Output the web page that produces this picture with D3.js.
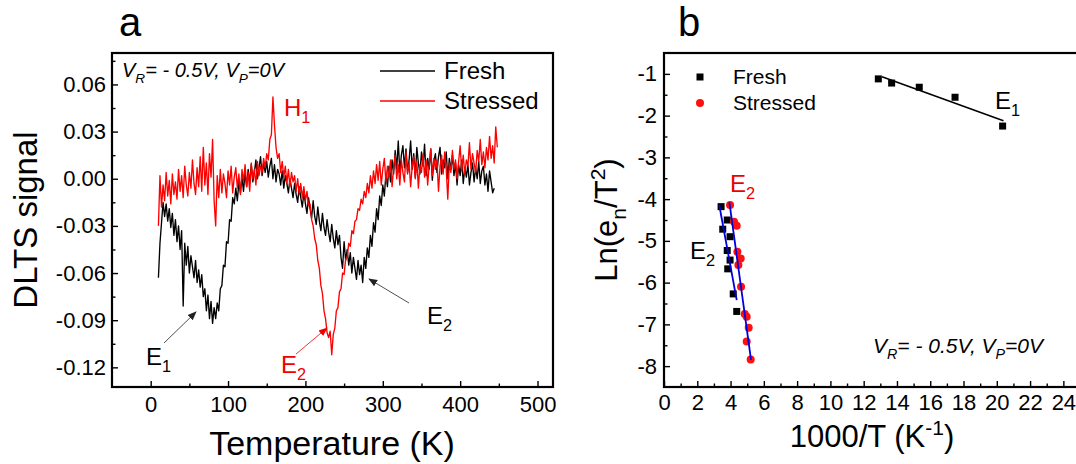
<!DOCTYPE html>
<html lang="en">
<head>
	<meta charset="utf-8">
	<title>DLTS spectra and Arrhenius plot</title>
	<script src="https://d3js.org/d3.v7.min.js"></script>
	<style>
		body { margin: 0; background: #fff; }
		svg { font-family: "Liberation Sans", Arial, sans-serif; }
		.tick line { stroke: #000; stroke-width: 1.4; }
	</style>
</head>
<body>
	<script>
		// ---- panel a : DLTS spectra ----
		var tempK = [
			10,12,14,16,18,20,22,24,26,28, 30,32,34,36,38,40,42,44,46,48,
			50,52,54,56,58,60,62,64,66,68, 70,72,74,76,78,80,82,84,86,88,
			90,92,94,96,98,100,102,104,106,108, 110,112,114,116,118,120,122,124,126,128,
			130,132,134,136,138,140,142,144,146,148, 150,152,154,156,158,160,162,164,166,168,
			170,172,174,176,178,180,182,184,186,188, 190,192,194,196,198,200,202,204,206,208,
			210,212,214,216,218,220,222,224,226,228, 230,232,234,236,238,240,242,244,246,248,
			250,252,254,256,258,260,262,264,266,268, 270,272,274,276,278,280,282,284,286,288,
			290,292,294,296,298,300,302,304,306,308, 310,312,314,316,318,320,322,324,326,328,
			330,332,334,336,338,340,342,344,346,348, 350,352,354,356,358,360,362,364,366,368,
			370,372,374,376,378,380,382,384,386,388, 390,392,394,396,398,400,402,404,406,408,
			410,412,414,416,418,420,422,424,426,428, 430,432,434,436,438,440,442,444,446,448
		];
		var freshSignal = [
			-0.063,-0.041,-0.028,-0.015,-0.024,-0.016,-0.027,-0.019,-0.031,-0.022,
			-0.036,-0.026,-0.04,-0.03,-0.045,-0.033,-0.081,-0.041,-0.055,-0.043,
			-0.06,-0.049,-0.056,-0.063,-0.052,-0.066,-0.058,-0.069,-0.061,-0.075,
			-0.07,-0.084,-0.074,-0.089,-0.078,-0.092,-0.082,-0.089,-0.079,-0.084,
			-0.07,-0.068,-0.055,-0.056,-0.04,-0.041,-0.026,-0.027,-0.012,-0.016,
			-0.006,-0.014,-0.002,-0.009,0.001,-0.008,0.004,-0.005,0.006,-0.003,
			0.009,-0.002,0.004,0.012,0.0,0.007,0.014,0.002,0.01,0.004,
			0.011,0.001,0.008,0.013,0.0,0.009,-0.002,0.006,0.003,-0.004,
			0.005,-0.006,0.002,-0.003,-0.009,0.0,-0.006,-0.012,-0.003,-0.01,
			-0.015,-0.005,-0.012,-0.018,-0.009,-0.016,-0.022,-0.012,-0.019,-0.025,
			-0.014,-0.024,-0.029,-0.018,-0.027,-0.033,-0.022,-0.031,-0.036,-0.026,
			-0.034,-0.04,-0.029,-0.038,-0.044,-0.033,-0.042,-0.036,-0.05,-0.057,
			-0.04,-0.052,-0.045,-0.055,-0.047,-0.06,-0.05,-0.057,-0.064,-0.052,
			-0.061,-0.055,-0.066,-0.05,-0.057,-0.044,-0.05,-0.036,-0.043,-0.028,
			-0.034,-0.019,-0.026,-0.011,-0.017,-0.004,-0.011,0.003,-0.005,0.008,
			-0.002,0.012,0.003,0.018,0.006,0.024,0.004,0.015,0.021,0.007,
			0.019,0.004,0.012,0.024,0.006,0.016,0.001,0.02,0.01,0.003,
			0.017,0.008,0.022,0.002,0.013,0.006,0.019,-0.001,0.011,0.016,
			0.004,0.014,0.02,0.003,0.012,0.007,0.017,0.0,0.013,0.006,
			0.015,0.002,0.01,-0.004,0.009,0.002,0.012,-0.003,0.007,0.001,
			0.009,-0.004,0.004,0.01,-0.002,0.007,0.0,0.011,-0.003,0.005,
			0.008,-0.004,0.003,-0.008,0.005,-0.002,-0.009,-0.006
		];
		var stressedSignal = [
			-0.03,0.002,-0.018,-0.004,-0.014,0.004,-0.011,-0.001,-0.016,0.003,
			-0.01,-0.002,-0.013,0.006,-0.008,0.002,-0.012,0.008,-0.004,-0.011,
			0.004,-0.006,0.012,-0.003,-0.01,0.007,-0.005,0.014,-0.008,0.02,
			-0.004,0.01,-0.01,0.016,0.001,0.025,-0.014,-0.03,0.002,-0.012,
			0.006,-0.009,0.003,-0.003,-0.012,0.005,-0.004,0.008,-0.009,0.001,
			0.007,-0.006,0.003,-0.01,0.006,-0.002,0.009,-0.005,0.004,-0.008,
			0.01,0.0,0.006,-0.004,0.011,0.002,0.008,0.004,0.013,0.007,
			0.016,0.012,0.025,0.028,0.052,0.034,0.02,0.013,0.016,0.004,
			0.011,0.001,0.008,-0.003,0.006,-0.005,0.004,-0.002,0.002,-0.008,
			0.0,-0.01,-0.003,-0.012,-0.005,-0.014,-0.008,-0.017,-0.016,-0.026,
			-0.03,-0.038,-0.042,-0.052,-0.057,-0.068,-0.073,-0.084,-0.089,-0.098,
			-0.101,-0.097,-0.112,-0.099,-0.095,-0.084,-0.082,-0.072,-0.07,-0.06,
			-0.061,-0.051,-0.05,-0.041,-0.043,-0.033,-0.035,-0.027,-0.026,-0.019,
			-0.02,-0.013,-0.016,-0.008,-0.012,-0.003,-0.009,0.002,-0.006,0.005,
			-0.003,0.009,-0.001,0.011,-0.004,0.006,0.013,-0.002,0.008,0.001,
			0.012,-0.005,0.007,0.015,0.0,0.009,-0.004,0.012,0.004,-0.002,
			0.017,0.003,0.01,-0.005,0.008,0.014,0.0,0.011,-0.006,0.009,
			0.004,0.016,0.001,0.012,-0.004,0.009,0.019,0.002,0.013,0.006,
			0.012,-0.008,0.008,0.015,0.003,0.017,0.006,-0.013,0.01,0.004,
			0.018,0.006,0.012,0.0,0.011,0.021,0.005,0.015,0.003,0.012,
			0.008,0.023,0.006,0.016,0.01,0.004,0.018,0.011,0.025,0.009,
			0.017,0.007,0.02,0.012,0.027,0.013,0.021,0.01,0.033,0.02
		];
		var tempTicks = [0, 100, 200, 300, 400, 500];
		var tempMinor = [50, 150, 250, 350, 450];
		var signalTicks = [-0.12, -0.09, -0.06, -0.03, 0.00, 0.03, 0.06];
		var signalMinor = [-0.105, -0.075, -0.045, -0.015, 0.015, 0.045, 0.075];

		// ---- panel b : Arrhenius plot ----
		var e1FreshX = [12.88, 13.68, 15.34, 17.49, 20.35];
		var e1FreshY = [-1.12, -1.22, -1.32, -1.56, -2.25];
		var e2FreshX = [3.43, 3.80, 3.53, 3.97, 3.80, 3.97, 3.83, 4.16, 4.37];
		var e2FreshY = [-4.18, -4.50, -4.72, -4.90, -5.23, -5.46, -5.67, -6.27, -6.69];
		var e2StressX = [3.97, 4.21, 4.37, 4.41, 4.61, 4.47, 4.63, 4.85, 4.97, 5.09, 4.97, 5.21];
		var e2StressY = [-4.14, -4.54, -4.64, -5.26, -5.42, -5.58, -6.10, -6.75, -6.82, -7.08, -7.41, -7.84];
		// fitted lines, end points
		var fitE1X = [13.1, 20.4], fitE1Y = [-1.07, -2.12];
		var fitE2FreshX = [3.32, 4.37], fitE2FreshY = [-4.14, -6.42];
		var fitE2StressX = [3.93, 5.23], fitE2StressY = [-4.08, -7.85];
		var invTTicks = [0, 2, 4, 6, 8, 10, 12, 14, 16, 18, 20, 22, 24];
		var invTMinor = [1, 3, 5, 7, 9, 11, 13, 15, 17, 19, 21, 23];
		var lnTicks = [-8, -7, -6, -5, -4, -3, -2, -1];
		var lnMinor = [-7.5, -6.5, -5.5, -4.5, -3.5, -2.5, -1.5];

		const width = 1076;
		const height = 464;
		var svg = d3.select("body").append("svg")
					.attr("width", width)
					.attr("height", height);
		svg.append("rect").attr("width", width).attr("height", height).attr("fill", "#fff");

		var defs = svg.append("defs");
		function addArrow(id, color) {
			defs.append("marker")
				.attr("id", id)
				.attr("viewBox", "0 0 10 10")
				.attr("refX", 9).attr("refY", 5)
				.attr("markerWidth", 9).attr("markerHeight", 9)
				.attr("markerUnits", "userSpaceOnUse")
				.attr("orient", "auto")
				.append("path").attr("d", "M0,1 L10,5 L0,9 Z").attr("fill", color);
		}
		addArrow("arrBlack", "#222");
		addArrow("arrRed", "#e00");

		// text with sub/superscripts: parts = [[str, "n"|"sub"|"sup"], ...]
		function richText(g, x, y, parts, size, opts) {
			opts = opts || {};
			let t = g.append("text").attr("x", x).attr("y", y)
					.attr("font-size", size)
					.attr("fill", opts.fill || "#000");
			if (opts.italic) t.attr("font-style", "italic");
			if (opts.anchor) t.attr("text-anchor", opts.anchor);
			if (opts.transform) t.attr("transform", opts.transform);
			let shift = 0;
			parts.forEach(function(p) {
				let target = p[1] == "sub" ? size * 0.3 : (p[1] == "sup" ? -size * 0.38 : 0);
				let s = t.append("tspan").text(p[0]).attr("dy", target - shift);
				if (p[1] != "n") s.attr("font-size", size * 0.68);
				shift = target;
			});
			return t;
		}

		var fmtMinus = function(f) { return function(d) { return f(d).replace("\u2212", "-"); }; };

		function drawAxes(x, y, xt, xm, yt, ym, xfmt, yfmt, fontSize, xpad, ypad) {
			let r = x.range(), b = y.range()[0];
			svg.append("g").attr("transform", "translate(0," + b + ")")
				.call(d3.axisBottom(x).tickValues(xt).tickFormat(xfmt)
					.tickSizeInner(-6).tickSizeOuter(0).tickPadding(xpad))
				.call(g => g.select(".domain").remove())
				.selectAll("text").attr("font-size", fontSize).attr("font-family", null).attr("fill", "#000");
			svg.append("g").attr("transform", "translate(0," + b + ")")
				.call(d3.axisBottom(x).tickValues(xm).tickFormat("").tickSizeInner(-3.5).tickSizeOuter(0))
				.call(g => g.select(".domain").remove());
			svg.append("g").attr("transform", "translate(" + r[0] + ",0)")
				.call(d3.axisLeft(y).tickValues(yt).tickFormat(yfmt)
					.tickSizeInner(-6).tickSizeOuter(0).tickPadding(ypad))
				.call(g => g.select(".domain").remove())
				.selectAll("text").attr("font-size", fontSize).attr("font-family", null).attr("fill", "#000");
			svg.append("g").attr("transform", "translate(" + r[0] + ",0)")
				.call(d3.axisLeft(y).tickValues(ym).tickFormat("").tickSizeInner(-3.5).tickSizeOuter(0))
				.call(g => g.select(".domain").remove());
			let yr = y.range();
			svg.append("rect")
				.attr("x", r[0]).attr("y", yr[1])
				.attr("width", r[1] - r[0]).attr("height", yr[0] - yr[1])
				.attr("fill", "none").attr("stroke", "#000").attr("stroke-width", 2.2);
		}

		// ===== panel a =====
		var xA = d3.scaleLinear().domain([-50, 520]).range([112, 553]);
		var yA = d3.scaleLinear().domain([-0.1325, 0.08]).range([387, 53]);

		var clipA = defs.append("clipPath").attr("id", "clipA");
		clipA.append("rect").attr("x", 112).attr("y", 53).attr("width", 441).attr("height", 334);

		var lineA = d3.line().x(d => xA(d[0])).y(d => yA(d[1]));
		var curves = svg.append("g").attr("clip-path", "url(#clipA)");
		curves.append("path").datum(d3.zip(tempK, freshSignal))
			.attr("d", lineA).attr("fill", "none").attr("stroke", "#000").attr("stroke-width", 1.35)
			.attr("stroke-linejoin", "round");
		curves.append("path").datum(d3.zip(tempK, stressedSignal))
			.attr("d", lineA).attr("fill", "none").attr("stroke", "#ff0000").attr("stroke-width", 1.35)
			.attr("stroke-linejoin", "round");

		drawAxes(xA, yA, tempTicks, tempMinor, signalTicks, signalMinor,
			d3.format("d"), fmtMinus(d3.format(".2f")), 22, 9, 6);

		svg.append("text").attr("x", 119).attr("y", 36).attr("font-size", 40).text("a");
		svg.append("text").attr("x", 332).attr("y", 455).attr("font-size", 34)
			.attr("text-anchor", "middle").text("Temperature (K)");
		svg.append("text").attr("transform", "translate(37,220) rotate(-90)")
			.attr("font-size", 33).attr("text-anchor", "middle").text("DLTS signal");

		richText(svg, 122, 77, [["V","n"],["R","sub"],["= - 0.5V, V","n"],["P","sub"],["=0V","n"]], 20, {italic: true});

		// legend a
		svg.append("line").attr("x1", 380).attr("x2", 435).attr("y1", 71).attr("y2", 71)
			.attr("stroke", "#000").attr("stroke-width", 1.5);
		svg.append("line").attr("x1", 380).attr("x2", 435).attr("y1", 101).attr("y2", 101)
			.attr("stroke", "#ff0000").attr("stroke-width", 1.5);
		svg.append("text").attr("x", 444).attr("y", 79).attr("font-size", 24).text("Fresh");
		svg.append("text").attr("x", 444).attr("y", 109).attr("font-size", 24).text("Stressed");

		// peak labels
		richText(svg, 284, 116, [["H","n"],["1","sub"]], 24, {fill: "#e00"});
		richText(svg, 146, 365, [["E","n"],["1","sub"]], 24);
		richText(svg, 281, 373, [["E","n"],["2","sub"]], 24, {fill: "#e00"});
		richText(svg, 427, 324, [["E","n"],["2","sub"]], 24);

		svg.append("line").attr("x1", 164).attr("y1", 343).attr("x2", 196).attr("y2", 312)
			.attr("stroke", "#222").attr("stroke-width", 0.8).attr("marker-end", "url(#arrBlack)");
		svg.append("line").attr("x1", 296).attr("y1", 354).attr("x2", 327).attr("y2", 328)
			.attr("stroke", "#e00").attr("stroke-width", 0.8).attr("marker-end", "url(#arrRed)");
		svg.append("line").attr("x1", 409).attr("y1", 303).attr("x2", 369).attr("y2", 279)
			.attr("stroke", "#222").attr("stroke-width", 0.8).attr("marker-end", "url(#arrBlack)");

		// ===== panel b =====
		var xB = d3.scaleLinear().domain([0, 25]).range([664, 1080]);
		var yB = d3.scaleLinear().domain([-8.5, -0.5]).range([387, 53]);
		var lineB = d3.line().x(d => xB(d[0])).y(d => yB(d[1]));

		var pts = svg.append("g");
		pts.selectAll("rect.fresh")
			.data(d3.zip(e1FreshX.concat(e2FreshX), e1FreshY.concat(e2FreshY)))
			.enter().append("rect").attr("class", "fresh")
			.attr("x", d => xB(d[0]) - 3.5).attr("y", d => yB(d[1]) - 3.5)
			.attr("width", 7).attr("height", 7).attr("fill", "#000");
		pts.selectAll("circle.stress")
			.data(d3.zip(e2StressX, e2StressY))
			.enter().append("circle").attr("class", "stress")
			.attr("cx", d => xB(d[0])).attr("cy", d => yB(d[1]))
			.attr("r", 4).attr("fill", "#ff1010");

		svg.append("path").datum(d3.zip(fitE1X, fitE1Y)).attr("d", lineB)
			.attr("stroke", "#000").attr("stroke-width", 1.6).attr("fill", "none");
		svg.append("path").datum(d3.zip(fitE2FreshX, fitE2FreshY)).attr("d", lineB)
			.attr("stroke", "#0000dd").attr("stroke-width", 1.8).attr("fill", "none");
		svg.append("path").datum(d3.zip(fitE2StressX, fitE2StressY)).attr("d", lineB)
			.attr("stroke", "#0000dd").attr("stroke-width", 1.8).attr("fill", "none");

		drawAxes(xB, yB, invTTicks, invTMinor, lnTicks, lnMinor,
			d3.format("d"), fmtMinus(d3.format("d")), 22, 7, 7);

		svg.append("text").attr("x", 678).attr("y", 36).attr("font-size", 40).text("b");
		richText(svg, 872, 447, [["1000/T (K","n"],["-1","sup"],[")","n"]], 31, {anchor: "middle"});
		richText(svg, 0, 0, [["Ln(e","n"],["n","sub"],["/T","n"],["2","sup"],[")","n"]], 31,
			{anchor: "middle", transform: "translate(617,220) rotate(-90)"});

		// legend b
		svg.append("rect").attr("x", 696.5).attr("y", 73.5).attr("width", 7).attr("height", 7).attr("fill", "#000");
		svg.append("circle").attr("cx", 700).attr("cy", 103).attr("r", 4).attr("fill", "#ff1010");
		svg.append("text").attr("x", 733).attr("y", 84).attr("font-size", 21).text("Fresh");
		svg.append("text").attr("x", 733).attr("y", 110).attr("font-size", 21).text("Stressed");

		richText(svg, 995, 109, [["E","n"],["1","sub"]], 24);
		richText(svg, 730, 192, [["E","n"],["2","sub"]], 24, {fill: "#e00"});
		richText(svg, 690, 259, [["E","n"],["2","sub"]], 24);
		richText(svg, 873, 353, [["V","n"],["R","sub"],["= - 0.5V, V","n"],["P","sub"],["=0V","n"]], 21, {italic: true});
	</script>
</body>
</html>
